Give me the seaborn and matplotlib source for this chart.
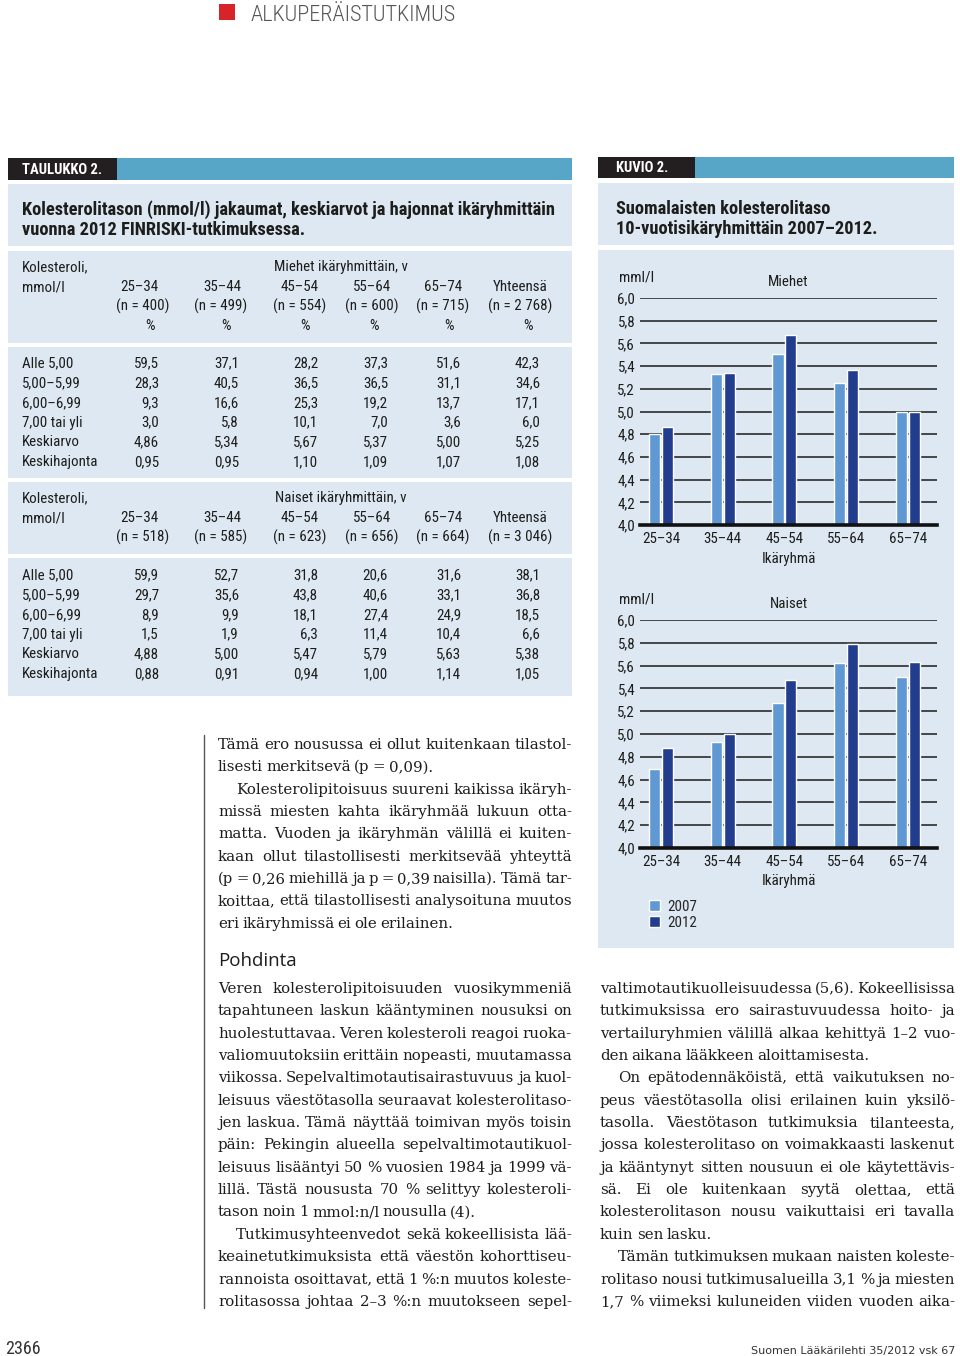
import numpy as np
import pandas as pd
import matplotlib
matplotlib.use('Agg')
import matplotlib.pyplot as plt
from matplotlib.patches import Rectangle
import seaborn as sns

# ---- chart data (Kuvio 2) ----
ages = ['25–34', '35–44', '45–54', '55–64', '65–74']
years = ['2007', '2012']
men_2007 = [4.80, 5.33, 5.51, 5.25, 5.00]
men_2012 = [4.86, 5.34, 5.67, 5.37, 5.00]
women_2007 = [4.69, 4.93, 5.27, 5.62, 5.50]
women_2012 = [4.88, 5.00, 5.47, 5.79, 5.63]
y_ticks = [4.0, 4.2, 4.4, 4.6, 4.8, 5.0, 5.2, 5.4, 5.6, 5.8, 6.0]
y_labels = ['4,0', '4,2', '4,4', '4,6', '4,8', '5,0', '5,2', '5,4', '5,6', '5,8', '6,0']

# ---- table data (Taulukko 2) ----
table_cols = ['25–34', '35–44', '45–54', '55–64', '65–74', 'Yhteensä']
row_labels = ['Alle 5,00', '5,00–5,99', '6,00–6,99', '7,00 tai yli', 'Keskiarvo', 'Keskihajonta']
men_n = ['(n = 400)', '(n = 499)', '(n = 554)', '(n = 600)', '(n = 715)', '(n = 2 768)']
women_n = ['(n = 518)', '(n = 585)', '(n = 623)', '(n = 656)', '(n = 664)', '(n = 3 046)']
men_rows = [
    ['59,5', '37,1', '28,2', '37,3', '51,6', '42,3'],
    ['28,3', '40,5', '36,5', '36,5', '31,1', '34,6'],
    ['9,3', '16,6', '25,3', '19,2', '13,7', '17,1'],
    ['3,0', '5,8', '10,1', '7,0', '3,6', '6,0'],
    ['4,86', '5,34', '5,67', '5,37', '5,00', '5,25'],
    ['0,95', '0,95', '1,10', '1,09', '1,07', '1,08'],
]
women_rows = [
    ['59,9', '52,7', '31,8', '20,6', '31,6', '38,1'],
    ['29,7', '35,6', '43,8', '40,6', '33,1', '36,8'],
    ['8,9', '9,9', '18,1', '27,4', '24,9', '18,5'],
    ['1,5', '1,9', '6,3', '11,4', '10,4', '6,6'],
    ['4,88', '5,00', '5,47', '5,79', '5,63', '5,38'],
    ['0,88', '0,91', '0,94', '1,00', '1,14', '1,05'],
]

# ---- body text ----
col_left_top = [
    (False, ['Tämä ero nousussa ei ollut kuitenkaan tilastol-',
             'lisesti merkitsevä (p = 0,09).']),
    (True, ['Kolesterolipitoisuus suureni kaikissa ikäryh-',
            'missä miesten kahta ikäryhmää lukuun otta-',
            'matta. Vuoden ja ikäryhmän välillä ei kuiten-',
            'kaan ollut tilastollisesti merkitsevää yhteyttä',
            '(p = 0,26 miehillä ja p = 0,39 naisilla). Tämä tar-',
            'koittaa, että tilastollisesti analysoituna muutos',
            'eri ikäryhmissä ei ole erilainen.']),
]
col_left_bottom = [
    (False, ['Veren kolesterolipitoisuuden vuosikymmeniä',
             'tapahtuneen laskun kääntyminen nousuksi on',
             'huolestuttavaa. Veren kolesteroli reagoi ruoka-',
             'valiomuutoksiin erittäin nopeasti, muutamassa',
             'viikossa. Sepelvaltimotautisairastuvuus ja kuol-',
             'leisuus väestötasolla seuraavat kolesterolitaso-',
             'jen laskua. Tämä näyttää toimivan myös toisin',
             'päin: Pekingin alueella sepelvaltimotautikuol-',
             'leisuus lisääntyi 50 % vuosien 1984 ja 1999 vä-',
             'lillä. Tästä noususta 70 % selittyy kolesteroli-',
             'tason noin 1 mmol:n/l nousulla (4).']),
    (True, ['Tutkimusyhteenvedot sekä kokeellisista lää-',
            'keainetutkimuksista että väestön kohorttiseu-',
            'rannoista osoittavat, että 1 %:n muutos koleste-',
            'rolitasossa johtaa 2–3 %:n muutokseen sepel-']),
]
col_right = [
    (False, ['valtimotautikuolleisuudessa (5,6). Kokeellisissa',
             'tutkimuksissa ero sairastuvuudessa hoito- ja',
             'vertailuryhmien välillä alkaa kehittyä 1–2 vuo-',
             'den aikana lääkkeen aloittamisesta.']),
    (True, ['On epätodennäköistä, että vaikutuksen no-',
            'peus väestötasolla olisi erilainen kuin yksilö-',
            'tasolla. Väestötason tutkimuksia tilanteesta,',
            'jossa kolesterolitaso on voimakkaasti laskenut',
            'ja kääntynyt sitten nousuun ei ole käytettävis-',
            'sä. Ei ole kuitenkaan syytä olettaa, että',
            'kolesterolitason nousu vaikuttaisi eri tavalla',
            'kuin sen lasku.']),
    (True, ['Tämän tutkimuksen mukaan naisten koleste-',
            'rolitaso nousi tutkimusalueilla 3,1 % ja miesten',
            '1,7 % viimeksi kuluneiden viiden vuoden aika-']),
]

sns.set_style('white')
plt.rcParams['font.family'] = ['Roboto Condensed', 'DejaVu Sans']
plt.rcParams['font.stretch'] = 'condensed'

HEAD_BLUE = '#58a6c7'
BOX = '#dde8f2'
LIGHT = '#5f98d3'
DARK = '#223d8d'
INK = '#1d1d1b'

W, H = 960, 1356
fig = plt.figure(figsize=(9.6, 13.56), dpi=100)
page = fig.add_axes([0, 0, 1, 1])
page.set_xlim(0, W)
page.set_ylim(H, 0)
page.axis('off')
renderer = fig.canvas.get_renderer()


def rect(x0, y0, x1, y1, color):
    page.add_patch(Rectangle((x0, y0), x1 - x0, y1 - y0, color=color, lw=0))


def txt(x, y, s, size=10.8, ha='left', **kw):
    kw.setdefault('color', INK)
    page.text(x, y + 0.5 * size, s, fontsize=size, ha=ha, va='baseline', **kw)


# header
rect(219, 4, 235, 20, '#d8232a')
txt(251, 13, 'ALKUPERÄISTUTKIMUS', size=16, color='#555555', fontweight='light')

# ---- table block ----
rect(8, 158, 572, 180, HEAD_BLUE)
rect(8, 158, 117, 180, '#231f20')
txt(22, 169, 'TAULUKKO 2.', size=10.5, color='white', fontweight='bold')
rect(8, 184, 572, 246, BOX)
txt(22, 208, 'Kolesterolitason (mmol/l) jakaumat, keskiarvot ja hajonnat ikäryhmittäin',
    size=13.2, fontweight='bold')
txt(22, 228, 'vuonna 2012 FINRISKI-tutkimuksessa.', size=13.2, fontweight='bold')

for y0, y1 in [(251, 343), (347, 478), (482, 554), (558, 696)]:
    rect(8, y0, 572, y1, BOX)

age_c = [139, 222, 300, 372, 443, 520]
n_c = [143, 221, 300, 372, 443, 520]
pct_c = [150, 226, 305, 374, 449, 528]
num_r = [159, 239, 318, 388, 461, 540]
row_step = 19.7


def table_part(top, title, n_list, rows, pct, data_top):
    txt(22, top, 'Kolesteroli,')
    txt(22, top + 20, 'mmol/l')
    txt(341, top, title, ha='center')
    for j in range(6):
        txt(age_c[j], top + 20, table_cols[j], ha='center')
        txt(n_c[j], top + 39, n_list[j], ha='center')
        if pct:
            txt(pct_c[j], top + 59, '%', ha='center')
    for i, lab in enumerate(row_labels):
        y = data_top + i * row_step
        txt(22, y, lab)
        for j in range(6):
            txt(num_r[j], y, rows[i][j], ha='right')


table_part(266, 'Miehet ikäryhmittäin, v', men_n, men_rows, True, 362)
table_part(497, 'Naiset ikäryhmittäin, v', women_n, women_rows, False, 574)

# ---- figure block ----
rect(598, 157, 954, 178, HEAD_BLUE)
rect(598, 157, 695, 178, '#231f20')
txt(616, 167, 'KUVIO 2.', size=10.5, color='white', fontweight='bold')
rect(598, 183, 954, 245, BOX)
txt(616, 207, 'Suomalaisten kolesterolitaso', size=13.2, fontweight='bold')
txt(616, 227, '10-vuotisikäryhmittäin 2007–2012.', size=13.2, fontweight='bold')
rect(598, 250, 954, 948, BOX)


def px_axes(x0, y0, x1, y1):
    return fig.add_axes([x0 / W, 1 - y1 / H, (x1 - x0) / W, (y1 - y0) / H])


def bar_panel(ax, v2007, v2012, title, ytitle, legend):
    df = pd.DataFrame({
        'age': ages * 2,
        'year': [years[0]] * 5 + [years[1]] * 5,
        'value': v2007 + v2012,
    })
    sns.barplot(data=df, x='age', y='value', hue='year', order=ages, hue_order=years,
                palette=[LIGHT, DARK], saturation=1, width=0.42, gap=0.15,
                errorbar=None, legend=legend, ax=ax, zorder=3)
    ax.patch.set_alpha(0)
    ax.set_xlim(-0.34, 4.47)
    ax.set_ylim(4.0, 6.0)
    ax.set_yticks(y_ticks)
    ax.set_yticklabels(y_labels)
    ax.grid(axis='y', color='#3a3a3a', lw=1.3, zorder=0)
    ax.grid(axis='x', visible=False)
    ax.set_axisbelow(True)
    for s in ['top', 'right', 'left']:
        ax.spines[s].set_visible(False)
    ax.spines['bottom'].set_color('#111111')
    ax.spines['bottom'].set_linewidth(2.6)
    ax.spines['bottom'].set_zorder(4)
    ax.tick_params(axis='y', length=0, pad=3.5, labelsize=10.8, labelcolor=INK)
    ax.tick_params(axis='x', length=0, pad=5, labelsize=10.8, labelcolor=INK)
    ax.set_xlabel('Ikäryhmä', fontsize=10.8, color=INK, labelpad=4)
    ax.set_ylabel('')
    ax.text(0.5, 1.07, title, transform=ax.transAxes, ha='center', va='center',
            fontsize=10.8, color=INK)
    ax.text(-0.07, 1.09, ytitle, transform=ax.transAxes, ha='left', va='center',
            fontsize=10.8, color=INK)
    if legend:
        sns.move_legend(ax, 'upper left', bbox_to_anchor=(0.01, -0.2), frameon=False,
                        title=None, fontsize=10.8, handlelength=0.75, handleheight=0.8,
                        handletextpad=0.45, labelspacing=0.15, borderaxespad=0)


men_ax = px_axes(640, 298, 937, 525)
bar_panel(men_ax, men_2007, men_2012, 'Miehet', 'mml/l', False)
women_ax = px_axes(640, 620, 937, 848)
bar_panel(women_ax, women_2007, women_2012, 'Naiset', 'mml/l', True)

# ---- body text columns ----
SERIF = ['DejaVu Serif', 'Liberation Serif']
BODY_SIZE = 10.8
LEAD = 22.35


def body_line(x0, x1, y, s, justify):
    size = BODY_SIZE
    words = s.split(' ')
    arts = [page.text(x0, y + 5, w, fontsize=size, family=SERIF, stretch='normal',
                      color=INK, va='baseline') for w in words]
    widths = [a.get_window_extent(renderer).width for a in arts]
    space = 3.2
    need = sum(widths) + space * (len(words) - 1)
    if need > x1 - x0:
        f = (x1 - x0) / need
        for a in arts:
            a.set_fontsize(size * f)
        widths = [w * f for w in widths]
        space *= f
    if justify and len(words) > 1:
        gap = (x1 - x0 - sum(widths)) / (len(words) - 1)
    else:
        gap = space
    x = x0
    for a, w in zip(arts, widths):
        a.set_x(x)
        x += w + gap


def column(paragraphs, x0, x1, y):
    for indent, lines in paragraphs:
        for k, s in enumerate(lines):
            last = k == len(lines) - 1
            justify = (not last) or s.endswith('-')
            body_line(x0 + (18 if (indent and k == 0) else 0), x1, y, s, justify)
            y += LEAD


column(col_left_top, 218, 572, 744)
page.text(218, 966, 'Pohdinta', fontsize=13.5, family=['Open Sans', 'DejaVu Sans'],
          stretch='normal', color=INK, va='baseline')
column(col_left_bottom, 218, 572, 988)
column(col_right, 600, 955, 988)
page.plot([204, 204], [735, 1308], color='#555555', lw=1)

# footer
page.text(5, 1354, '2366', fontsize=13, color='#333333', va='baseline')
page.text(955, 1354, 'Suomen Lääkärilehti 35/2012 vsk 67', fontsize=8,
          family=['DejaVu Sans'], stretch='normal', color='#333333',
          va='baseline', ha='right')

fig.savefig('out.png', dpi=100)
